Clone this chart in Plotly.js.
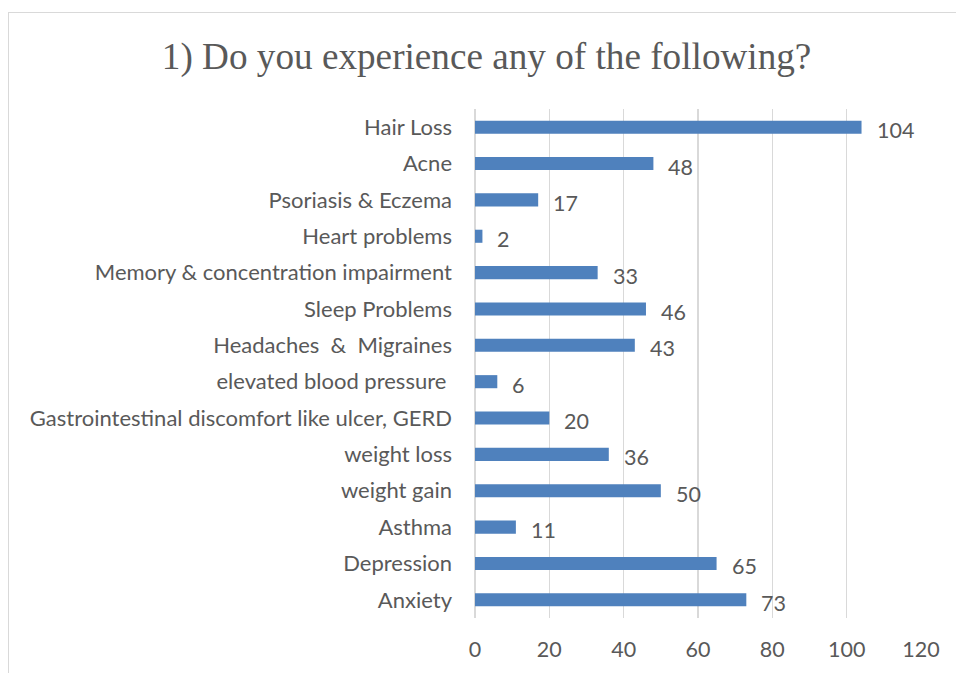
<!DOCTYPE html>
<html>
<head>
<meta charset="utf-8">
<script src="https://cdn.plot.ly/plotly-3.0.1.min.js"></script>
<style>
  html, body { margin: 0; padding: 0; background: #fff; overflow: hidden; }
  #frame { position: absolute; left: 8px; top: 12px; width: 1000px; height: 700px;
           border-left: 1.5px solid #d9d9d9; border-top: 1.5px solid #d9d9d9; box-sizing: border-box; }
  #chart { position: absolute; left: 0; top: 0; width: 956px; height: 673px; }
</style>
</head>
<body>
<div id="frame"></div>
<div id="chart"></div>
<script>
const categories = [
  "Hair Loss",
  "Acne",
  "Psoriasis & Eczema",
  "Heart problems",
  "Memory & concentration impairment",
  "Sleep Problems",
  "Headaches\u00a0 &\u00a0 Migraines",
  "elevated blood pressure\u00a0",
  "Gastrointestinal discomfort like ulcer, GERD",
  "weight loss",
  "weight gain",
  "Asthma",
  "Depression",
  "Anxiety"
];
const values = [104, 48, 17, 2, 33, 46, 43, 6, 20, 36, 50, 11, 65, 73];
const xTicks = [0, 20, 40, 60, 80, 100, 120];

const textColor = "#595959";
const font = "Lato, 'Open Sans', sans-serif";

const trace = {
  type: "bar",
  orientation: "h",
  x: values,
  y: categories,
  marker: { color: "#4F81BD" },
  hoverinfo: "none"
};

const annotations = values.map((v, i) => ({
  x: v, y: categories[i], xref: "x", yref: "y",
  text: String(v), showarrow: false,
  xanchor: "left", yanchor: "middle",
  xshift: 13, yshift: -3,
  font: { family: font, size: 21.5, color: textColor }
}));

const layout = {
  width: 956, height: 673,
  paper_bgcolor: "rgba(0,0,0,0)",
  plot_bgcolor: "rgba(0,0,0,0)",
  margin: { l: 475, r: 35, t: 109, b: 55, pad: 0 },
  bargap: 0.64,
  showlegend: false,
  title: {
    text: "1) Do you experience any of the following?",
    font: { family: "'Liberation Serif', 'Times New Roman', serif", size: 37.2, color: textColor },
    x: 0.509, xanchor: "center", xref: "container",
    y: 1 - 56 / 673, yanchor: "middle", yref: "container"
  },
  xaxis: {
    range: [0, 120],
    tickvals: xTicks,
    ticktext: xTicks.map(String),
    showgrid: true, gridcolor: "#d9d9d9", gridwidth: 1.5,
    zeroline: true, zerolinecolor: "#d9d9d9", zerolinewidth: 1.5,
    showline: false,
    ticks: "",
    ticklabelstandoff: 16,
    tickfont: { family: font, size: 21.5, color: textColor },
    fixedrange: true
  },
  yaxis: {
    type: "category",
    autorange: "reversed",
    showgrid: false, zeroline: false, showline: false,
    ticks: "",
    ticklabelstandoff: 22,
    tickfont: { family: font, size: 22, color: textColor },
    fixedrange: true
  },
  annotations: annotations
};

Plotly.newPlot("chart", [trace], layout, { displayModeBar: false, staticPlot: true });
</script>
</body>
</html>
